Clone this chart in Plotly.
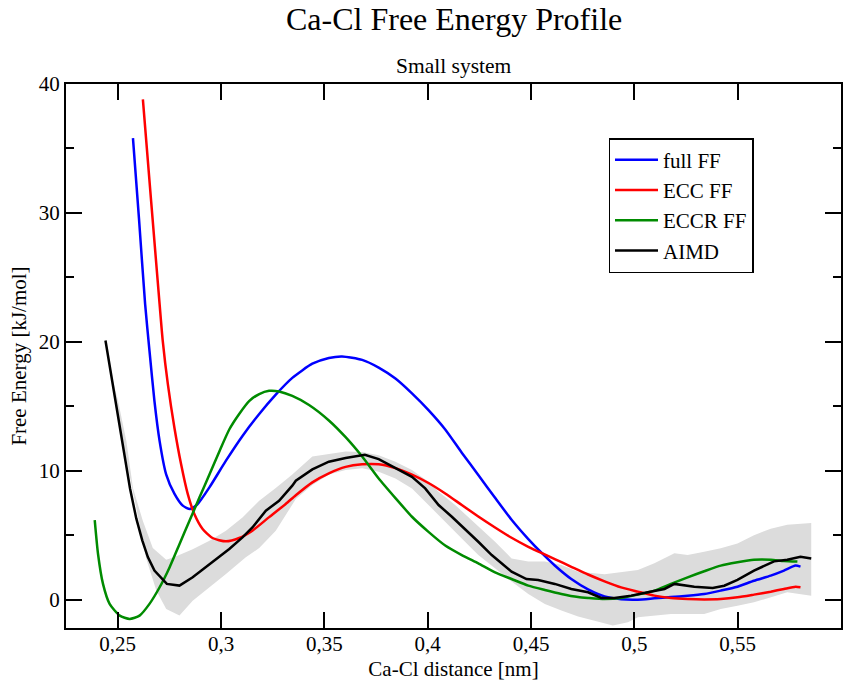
import plotly.graph_objects as go

# ---------------- data ----------------
full_x = [0.2574, 0.2603, 0.2633, 0.2654, 0.2678, 0.2703, 0.2735, 0.2775, 0.2815, 0.2850,
          0.2887, 0.2944, 0.3024, 0.3104, 0.3185, 0.3265, 0.3345, 0.3442, 0.3522, 0.3586,
          0.3683, 0.3763, 0.3844, 0.3924, 0.4004, 0.4085, 0.4165, 0.4245, 0.4326, 0.4406,
          0.4487, 0.4553, 0.4615, 0.4695, 0.4776, 0.4856, 0.4936, 0.5017, 0.5097, 0.5177,
          0.5258, 0.5338, 0.5418, 0.5499, 0.5579, 0.5660, 0.5724, 0.5780, 0.5804]
full_y = [35.8, 29.6, 22.9, 19.3, 15.4, 12.3, 9.7, 8.2, 7.29, 7.03,
          7.42, 8.71, 10.78, 12.7, 14.4, 15.9, 17.2, 18.3, 18.75, 18.87,
          18.6, 18.0, 17.15, 16.0, 14.7, 13.2, 11.4, 9.67, 7.9, 6.2,
          4.7, 3.6, 2.65, 1.6, 0.8, 0.25, 0.03, 0.0, 0.1, 0.2,
          0.3, 0.44, 0.7, 1.0, 1.47, 1.86, 2.25, 2.64, 2.56]

ecc_x = [0.2622, 0.2662, 0.2703, 0.2718, 0.2743, 0.2775, 0.2807, 0.2839, 0.2871, 0.2911,
         0.2959, 0.3024, 0.3088, 0.3152, 0.3233, 0.3313, 0.3362, 0.3442, 0.3522, 0.3603,
         0.3683, 0.3763, 0.3844, 0.3924, 0.4004, 0.4085, 0.4165, 0.4245, 0.4326, 0.4406,
         0.4487, 0.4553, 0.4615, 0.4695, 0.4776, 0.4856, 0.4936, 0.5017, 0.5097, 0.5177,
         0.5258, 0.5338, 0.5418, 0.5499, 0.5579, 0.5660, 0.5724, 0.5780, 0.5804]
ecc_y = [38.8, 30.9, 22.9, 20.1, 16.7, 13.3, 10.5, 8.2, 6.64, 5.48,
         4.78, 4.52, 4.78, 5.35, 6.4, 7.42, 8.1, 9.1, 9.8, 10.3,
         10.5, 10.5, 10.2, 9.7, 9.05, 8.24, 7.34, 6.45, 5.6, 4.8,
         4.1, 3.6, 3.15, 2.55, 1.95, 1.42, 0.95, 0.62, 0.31, 0.13,
         0.05, 0.02, 0.05, 0.18, 0.39, 0.62, 0.83, 1.0, 0.96]

eccr_x = [0.2389, 0.2405, 0.2429, 0.2461, 0.2510, 0.2558, 0.2606, 0.2654, 0.2703, 0.2751,
          0.2799, 0.2847, 0.2895, 0.2944, 0.2992, 0.3040, 0.3088, 0.3136, 0.3185, 0.3233,
          0.3281, 0.3345, 0.3426, 0.3522, 0.3603, 0.3683, 0.3763, 0.3844, 0.3924, 0.4004,
          0.4085, 0.4165, 0.4245, 0.4326, 0.4406, 0.4487, 0.4567, 0.4647, 0.4728, 0.4776,
          0.4856, 0.4936, 0.5017, 0.5097, 0.5177, 0.5258, 0.5338, 0.5418, 0.5499, 0.5579,
          0.5660, 0.5724, 0.5789]
eccr_y = [6.17, 3.54, 1.22, -0.33, -1.24, -1.5, -1.24, -0.33, 0.96, 2.5,
          4.3, 6.1, 7.9, 9.7, 11.5, 13.2, 14.4, 15.4, 15.95, 16.2,
          16.15, 15.8, 15.1, 13.9, 12.6, 11.1, 9.4, 7.88, 6.43, 5.26,
          4.2, 3.46, 2.81, 2.12, 1.6, 1.09, 0.75, 0.44, 0.2, 0.13,
          0.05, 0.13, 0.39, 0.70, 1.22, 1.73, 2.2, 2.64, 2.9, 3.1,
          3.1, 3.0, 2.95]

aimd_x = [0.2441, 0.2470, 0.2500, 0.2530, 0.2560, 0.2590, 0.2619, 0.2646, 0.2678,
          0.2738, 0.2799, 0.2863, 0.2944, 0.3040, 0.3104, 0.3152, 0.3217, 0.3281, 0.3345,
          0.3362, 0.3442, 0.3522, 0.3603, 0.3696, 0.3763, 0.3844, 0.3924, 0.3988, 0.4053,
          0.4117, 0.4197, 0.4245, 0.4310, 0.4406, 0.4478, 0.4535, 0.4615, 0.4695, 0.4776,
          0.4840, 0.4904, 0.4985, 0.5065, 0.5146, 0.5194, 0.5290, 0.5379, 0.5435, 0.5499,
          0.5579, 0.5676, 0.5740, 0.5804, 0.5856]
aimd_y = [20.1, 17.3, 14.3, 11.3, 8.6, 6.3, 4.6, 3.3, 2.25,
          1.22, 1.09, 1.73, 2.77, 3.93, 4.83, 5.6, 6.9, 7.67, 8.84,
          9.22, 10.1, 10.7, 10.98, 11.24, 10.9, 10.2, 9.53, 8.63, 7.34,
          6.43, 5.26, 4.49, 3.46, 2.17, 1.6, 1.53, 1.22, 0.83, 0.57,
          0.13, 0.13, 0.31, 0.57, 0.83, 1.22, 1.0, 0.91, 1.08, 1.53,
          2.25, 2.97, 3.1, 3.33, 3.2]

band_up_x = [0.2441, 0.2477, 0.2502, 0.2542, 0.2574, 0.2622, 0.2670, 0.2735, 0.2775, 0.2863,
             0.2944, 0.3024, 0.3104, 0.3185, 0.3265, 0.3345, 0.3442, 0.3522, 0.3603, 0.3683,
             0.3763, 0.3844, 0.3924, 0.4004, 0.4053, 0.4133, 0.4213, 0.4278, 0.4326, 0.4406,
             0.4487, 0.4567, 0.4647, 0.4728, 0.4856, 0.5017, 0.5097, 0.5194, 0.5258, 0.5338,
             0.5418, 0.5499, 0.5579, 0.5660, 0.5740, 0.5856]
band_up_y = [20.2, 17.0, 15.4, 12.3, 8.66, 6.1, 4.0, 3.1, 3.3, 3.9,
             4.57, 5.35, 6.38, 7.67, 8.66, 9.7, 11.1, 11.3, 11.5, 11.45,
             11.2, 10.7, 10.05, 9.15, 8.37, 7.34, 6.17, 5.26, 4.49, 3.2,
             2.95, 2.95, 2.69, 2.17, 1.97, 2.3, 2.82, 3.6, 3.46, 3.72,
             3.98, 4.36, 5.0, 5.5, 5.8, 5.95]

band_lo_x = [0.2441, 0.2494, 0.2542, 0.2590, 0.2638, 0.2687, 0.2735, 0.2799, 0.2863, 0.2944,
             0.3024, 0.3120, 0.3185, 0.3265, 0.3362, 0.3442, 0.3522, 0.3603, 0.3683, 0.3763,
             0.3844, 0.3924, 0.4004, 0.4085, 0.4165, 0.4245, 0.4326, 0.4406, 0.4487, 0.4567,
             0.4647, 0.4728, 0.4776, 0.4896, 0.4969, 0.5017, 0.5177, 0.5338, 0.5418, 0.5499,
             0.5579, 0.5660, 0.5740, 0.5856]
band_lo_y = [20.0, 14.6, 11.0, 7.1, 3.2, 0.7, -0.72, -1.24, -0.08, 0.96,
             1.99, 3.28, 4.0, 5.35, 7.8, 8.9, 9.7, 10.05, 10.2, 9.92,
             9.4, 8.63, 7.34, 6.05, 4.75, 3.46, 2.43, 1.4, 0.44, -0.33,
             -0.85, -1.3, -1.5, -2.0, -1.76, -1.37, -1.11, -1.11, -0.72, -0.47,
             -0.21, 0.18, 0.57, 0.31]

x_tick_vals = [0.25, 0.3, 0.35, 0.4, 0.45, 0.5, 0.55]
x_tick_labels = ["0,25", "0,3", "0,35", "0,4", "0,45", "0,5", "0,55"]
y_tick_vals = [0, 10, 20, 30, 40]
y_minor_vals = [5, 15, 25, 35]

FONT = "Liberation Serif"

fig = go.Figure()

# grey uncertainty band for AIMD
fig.add_trace(go.Scatter(
    x=band_up_x + band_lo_x[::-1], y=band_up_y + band_lo_y[::-1],
    fill="toself", fillcolor="#dcdcdc", line=dict(width=0, color="#dcdcdc"),
    mode="lines", showlegend=False, hoverinfo="skip"))

fig.add_trace(go.Scatter(x=full_x, y=full_y, name="full FF", mode="lines",
                         line=dict(color="#0000ff", width=2.5, shape="spline", smoothing=0.6)))
fig.add_trace(go.Scatter(x=ecc_x, y=ecc_y, name="ECC FF", mode="lines",
                         line=dict(color="#ff0000", width=2.5, shape="spline", smoothing=0.6)))
fig.add_trace(go.Scatter(x=eccr_x, y=eccr_y, name="ECCR FF", mode="lines",
                         line=dict(color="#008b00", width=2.5, shape="spline", smoothing=0.6)))
fig.add_trace(go.Scatter(x=aimd_x, y=aimd_y, name="AIMD", mode="lines",
                         line=dict(color="#000000", width=2.5)))

axis_common = dict(showline=True, linewidth=2, linecolor="black", mirror="allticks",
                   ticks="inside", ticklen=16, tickwidth=1.5, tickcolor="black",
                   showgrid=False, zeroline=False,
                   tickfont=dict(family=FONT, size=21, color="black"))

fig.update_xaxes(range=[0.225, 0.6], tickvals=x_tick_vals, ticktext=x_tick_labels,
                 ticklabelstandoff=-4,
                 title=dict(text="Ca-Cl distance [nm]", font=dict(family=FONT, size=21),
                            standoff=6),
                 **axis_common)
fig.update_yaxes(range=[-2.2, 40], tickvals=y_tick_vals,
                 minor=dict(tickvals=y_minor_vals, ticks="inside", ticklen=8,
                            tickwidth=1.5, tickcolor="black"),
                 title=dict(text="Free Energy [kJ/mol]", font=dict(family=FONT, size=21),
                            standoff=6),
                 **axis_common)

fig.update_layout(
    width=848, height=682,
    margin=dict(l=66, r=5, t=84, b=54),
    plot_bgcolor="white", paper_bgcolor="white",
    font=dict(family=FONT, size=21, color="black"),
    legend=dict(x=0.700, y=0.9007, xanchor="left", yanchor="top",
                bgcolor="white", bordercolor="black", borderwidth=1.5,
                font=dict(family=FONT, size=21), itemwidth=43, tracegroupgap=0),
    annotations=[
        dict(text="Ca-Cl Free Energy Profile", xref="paper", yref="paper",
             x=0.5, y=1.1195, xanchor="center", yanchor="middle", showarrow=False,
             font=dict(family=FONT, size=32, color="black")),
        dict(text="Small system", xref="paper", yref="paper",
             x=0.5, y=1.0336, xanchor="center", yanchor="middle", showarrow=False,
             font=dict(family=FONT, size=21.5, color="black")),
    ],
)

# remove the browser's default 8 px body margin so the figure fills the window
fig.write_html("out.html", config={"displayModeBar": False},
               post_script="document.body.style.margin='0';")
